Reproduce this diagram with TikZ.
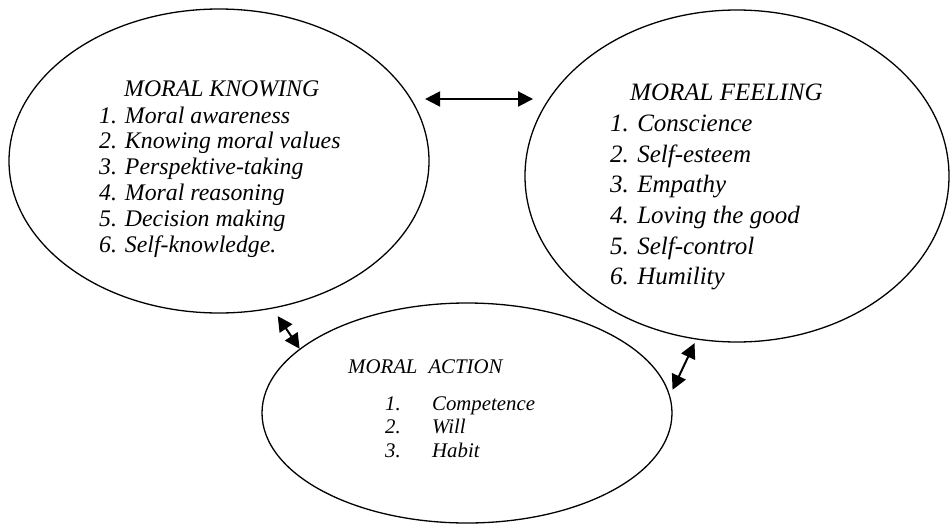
\documentclass[tikz,border=0pt]{standalone}
\usepackage{fontspec}
\setmainfont{Liberation Serif}[ItalicFont={Liberation Serif Italic}]
\usetikzlibrary{shapes.geometric,arrows.meta}

\tikzset{
  circ/.style={ellipse, draw, line width=1.3pt, inner sep=0pt},
  link/.style={{Triangle[length=15pt,width=15pt]}-{Triangle[length=15pt,width=15pt]}, line width=2pt},
  knowtxt/.style={font=\itshape\fontsize{23.8}{25.8}\selectfont, inner sep=0pt, anchor=base west},
  feeltxt/.style={font=\itshape\fontsize{25}{30.6}\selectfont, inner sep=0pt, anchor=base west},
  acttxt/.style={font=\itshape\fontsize{20.8}{24}\selectfont, inner sep=0pt, anchor=base west}
}

\begin{document}
\begin{tikzpicture}[x=1pt,y=-1pt]
\useasboundingbox (0,0) rectangle (950,525);

% the three circles
\node[circ, minimum width=420pt, minimum height=304pt] (knowing) at (219,161) {};
\node[circ, minimum width=424pt, minimum height=332pt] (feeling) at (737,176) {};
\node[circ, minimum width=410pt, minimum height=220pt] (action) at (467,413) {};

% moral knowing
\node[knowtxt] (knowhead) at (124,96.7) {MORAL KNOWING};
\begin{scope}
\clip (0,0) rectangle (950,258);
\foreach \txt [count=\i] in {Moral awareness, Knowing moral values, Perspektive-taking, Moral reasoning, Decision making, Self-knowledge.}
  \node[knowtxt] (know\i) at (99,{123+25.8*(\i-1)}) {\i. \txt};
\end{scope}

% moral feeling
\node[feeltxt] (feelhead) at (630,100.7) {MORAL FEELING};
\begin{scope}
\clip (0,0) rectangle (950,295);
\foreach \txt [count=\i] in {Conscience, Self-esteem, Empathy, Loving the good, Self-control, Humility}
  \node[feeltxt] (feel\i) at (610,{131.7+30.6*(\i-1)}) {\i. \txt};
\end{scope}

% moral action
\node[acttxt] (acthead) at (348,373) {MORAL\hspace{11pt}ACTION};
\foreach \txt [count=\i] in {Competence, Will, Habit}
  \node[acttxt] (act\i) at (385,{410+23.6*(\i-1)}) {\makebox[47pt][l]{\i.}\txt};

% links
\coordinate (kf) at ([yshift=0pt]knowing.center |- 0,99);
\draw[link, shorten <=12pt, shorten >=17pt] (kf -| knowing.17.9) -- (kf -| feeling.157.7);
\draw[link, shorten <=9pt] (knowing.-70.9) -- (action.159.8);
\draw[link, shorten <=4pt, shorten >=6pt] (feeling.256.9) -- (action.5.2);
\end{tikzpicture}
\end{document}
